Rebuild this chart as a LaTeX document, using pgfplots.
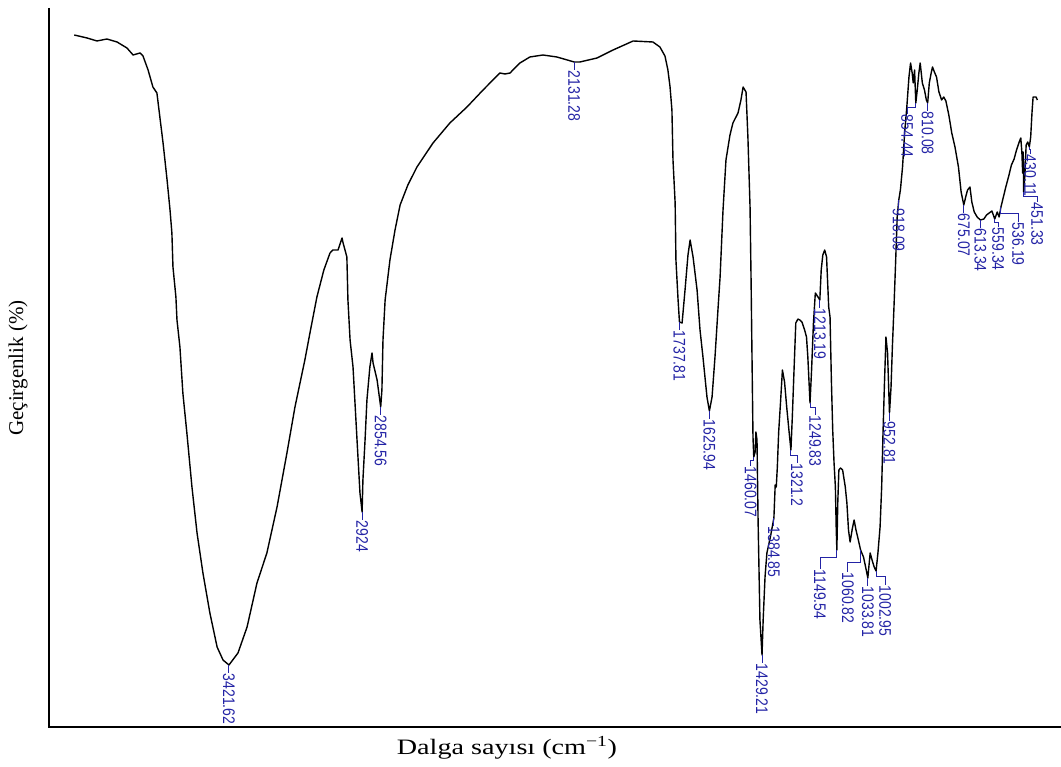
\documentclass[border=0pt]{standalone}
\usepackage{fontspec}
\setmainfont{Liberation Serif}
\newfontfamily\lblfont{Liberation Sans}
\usepackage{graphicx}
\usepackage{pgfplots}
\pgfplotsset{compat=1.18}
\definecolor{pkblue}{RGB}{35,35,165}

% peak label: #1,#2 = band position; #3 = level of the bend;
% #4,#5 = start of the label; #6 = text
\newcommand{\pk}[6]{%
  \draw[pkblue, line width=1bp] (axis cs:#1,#2) -- (axis cs:#1,#3)
     -- (axis cs:#4,#3) -- (axis cs:#4,#5);
  \node[pkblue, rotate=-90, anchor=west, inner sep=0.6bp,
        font=\lblfont\fontsize{14bp}{16bp}\selectfont] at (axis cs:#4,#5)
        {\scalebox{1}[1.2]{#6}};
}

\begin{document}
\begin{tikzpicture}
\path[use as bounding box] (-49bp,-40bp) rectangle (1012bp,727bp);
\begin{axis}[
  at={(0,0)}, anchor=south west,
  scale only axis, width=1012bp, height=719bp,
  x dir=reverse,
  xmin=311.6, xmax=4094.4, ymin=0, ymax=71.9,
  hide axis, clip=false,
]
\addplot[black, line width=1.4bp, line join=round] coordinates {
(4000,69.2) (3952,68.9) (3915,68.6) (3878,68.8) (3840,68.5) (3803,67.9)
(3780,67.2) (3754,67.4) (3743,67.1) (3724,65.7) (3706,64.0) (3691,63.4)
(3680,61.0) (3668,58.4) (3653,54.7) (3642,51.7) (3635,49.4) (3631,46.0)
(3620,43.0) (3616,40.7) (3605,38.0) (3594,33.4) (3579,29.4) (3560,24.0)
(3541,19.4) (3519,15.4) (3493,11.4) (3466,8.0) (3444,6.7) (3421.62,6.2)
(3388,7.4) (3354,10.0) (3317,14.4) (3280,17.4) (3242,22.0) (3205,27.4)
(3175,32.0) (3138,36.7) (3119,39.4) (3093,43.0) (3067,45.7) (3044,47.4)
(3033,47.7) (3014,47.7) (2999,48.9) (2996,48.5) (2981,47.0) (2977,42.7)
(2969,38.7) (2958,36.0) (2943,28.7) (2932,23.4) (2924,21.5) (2921,24.7)
(2913,28.7) (2906,32.7) (2895,36.0) (2887,37.4) (2883,36.4) (2868,34.7)
(2854.56,32.0) (2850,33.7) (2846,38.7) (2838,42.7) (2820,46.7) (2801,49.7)
(2782,52.2) (2753,54.2) (2719,56.0) (2659,58.4) (2596,60.4) (2532,62.0)
(2472,63.7) (2409,65.4) (2390,65.3) (2371,65.4) (2353,65.9) (2334,66.4)
(2297,67.0) (2248,67.2) (2196,67.0) (2131.28,66.5) (2110,66.5) (2046,66.9)
(1986,67.7) (1911,68.6) (1837,68.5) (1811,68.0) (1792,67.1) (1781,65.7)
(1773,64.0) (1766,61.7) (1762,56.7) (1754,52.4) (1751,46.7) (1743,42.7)
(1737.81,40.5) (1728,40.4) (1717,43.7) (1706,47.2) (1698,48.7) (1687,47.0)
(1672,43.7) (1661,39.7) (1650,37.0) (1635,33.0) (1625.94,31.6) (1616,33.0)
(1605,37.0) (1594,41.7) (1586,45.0) (1575,51.7) (1564,56.7) (1549,59.2)
(1538,60.4) (1519,61.4) (1508,62.7) (1500,64.0) (1489,63.5) (1482,59.0)
(1474,52.0) (1470,44.4) (1467,37.7) (1463,29.0) (1460.07,27.0) (1455,27.5)
(1452,29.5) (1448,28.7) (1444,20.7) (1437,10.7) (1429.21,7.2) (1425,10.7)
(1418,15.0) (1411,17.4) (1398,19.0) (1384.85,20.9) (1380,24.2) (1376,24.0)
(1372,26.0) (1367,29.5) (1360,32.5) (1353,35.7) (1345,34.5) (1337,32.0)
(1328,29.5) (1321.2,27.7) (1316,31.0) (1310,35.4) (1303,40.4) (1295,40.8)
(1288,40.7) (1280,40.5) (1270,39.7) (1263,39.0) (1258,37.0) (1249.83,32.4)
(1244,35.7) (1237,40.4) (1230,43.4) (1220,43.0) (1213.19,42.7) (1208,45.7)
(1202,47.2) (1195,47.7) (1188,47.0) (1180,42.0) (1175,41.0) (1170,34.7)
(1165,29.7) (1160,26.4) (1155,24.0) (1152,20.0) (1149.54,17.7) (1146,22.5)
(1142,25.7) (1136,25.9) (1128,25.7) (1118,24.0) (1112,22.4) (1106,19.7)
(1100,18.5) (1092,19.8) (1085,20.7) (1078,19.7) (1070,18.8) (1060.82,17.7)
(1050,17.0) (1042,16.0) (1033.81,14.9) (1025,17.4) (1018,16.7) (1010,16.0)
(1002.95,15.6) (996,17.4) (988,20.0) (982,24.0) (977,29.4) (972,34.0)
(966,39.0) (960,37.4) (952.81,31.4) (947,34.0) (942,38.0) (936,42.0)
(930,46.4) (924,51.0) (918.09,52.7) (912,53.7) (904,56.0) (896,59.5)
(888,62.0) (880,65.0) (874,66.4) (868,65.4) (864,64.4) (859,65.7)
(854.44,62.4) (849,63.7) (843,65.4) (838,66.4) (830,64.4) (822,63.7)
(815,62.7) (810.08,62.4) (804,64.4) (797,65.4) (792,66.0) (785,65.5)
(777,65.0) (768,63.5) (758,62.7) (750,63.0) (742,62.6) (731,61.2)
(720,59.4) (708,58.0) (695,56.0) (685,53.5) (675.07,52.2) (668,53.0)
(661,53.7) (652,54.0) (645,52.5) (636,51.5) (625,51.0) (613.34,50.7)
(600,50.8) (590,51.2) (580,51.4) (570,51.6) (559.34,50.8) (550,51.5)
(543,51.0) (536.19,52.0) (528,52.9) (518,54.0) (508,55.0) (497,56.2)
(487,56.8) (478,57.7) (468,58.5) (462,58.9) (458,57.5) (455,55.4)
(453,57.5) (451.33,53.5) (447,55.0) (442,58.2) (436,58.5) (430.11,58.0)
(425,59.0) (420,61.5) (416,63.0) (405,63.0) (400,62.7)
};

% band labels
\pk{3421.62}{6.2}{5.4}{3421.62}{5.4}{3421.62}
\pk{2924}{21.5}{20.7}{2924}{20.7}{2924}
\pk{2854.56}{32.0}{31.2}{2854.56}{31.2}{2854.56}
\pk{2131.28}{66.5}{65.7}{2131.28}{65.7}{2131.28}
\pk{1737.81}{40.5}{39.7}{1737.81}{39.7}{1737.81}
\pk{1625.94}{31.6}{30.8}{1625.94}{30.8}{1625.94}
\pk{1460.07}{27.0}{26.6}{1472}{26.1}{1460.07}
\pk{1429.21}{7.2}{6.4}{1429.21}{6.4}{1429.21}
\pk{1384.85}{20.9}{20.1}{1384.85}{20.1}{1384.85}
\pk{1321.2}{27.7}{27.1}{1298.5}{26.4}{1321.2}
\pk{1249.83}{32.4}{31.9}{1231}{31.2}{1249.83}
\pk{1213.19}{42.7}{41.9}{1213.19}{41.9}{1213.19}
\pk{1149.54}{17.7}{16.9}{1212.5}{15.8}{1149.54}
\pk{1060.82}{17.7}{16.4}{1108}{15.5}{1060.82}
\pk{1033.81}{14.9}{14.1}{1033.81}{14.1}{1033.81}
\pk{1002.95}{15.6}{15.0}{969}{14.2}{1002.95}
\pk{952.81}{31.4}{30.6}{952.81}{30.6}{952.81}
\pk{918.09}{52.7}{51.9}{918.09}{51.9}{918.09}
\pk{854.44}{62.4}{61.9}{887}{61.3}{854.44}
\pk{810.08}{62.4}{61.6}{810.08}{61.6}{810.08}
\pk{675.07}{52.2}{51.4}{675.07}{51.4}{675.07}
\pk{613.34}{50.7}{49.9}{613.34}{49.9}{613.34}
\pk{559.34}{50.8}{50.4}{547}{50.0}{559.34}
\pk{536.19}{52.0}{51.3}{472}{50.5}{536.19}
\pk{451.33}{53.5}{53.0}{401}{52.5}{451.33}
\pk{430.11}{58.0}{57.7}{427}{57.3}{430.11}
\end{axis}
\draw[line width=1.6bp] (0,719bp) -- (0,0) -- (1012bp,0);
\node at (458bp,-21bp) {\fontsize{22bp}{26bp}\selectfont\scalebox{1.28}[1]{Dalga sayısı (cm\textsuperscript{−1})}};
\node[rotate=90] at (-31bp,359bp) {\fontsize{21bp}{25bp}\selectfont Geçirgenlik (\%)};
\end{tikzpicture}
\end{document}
